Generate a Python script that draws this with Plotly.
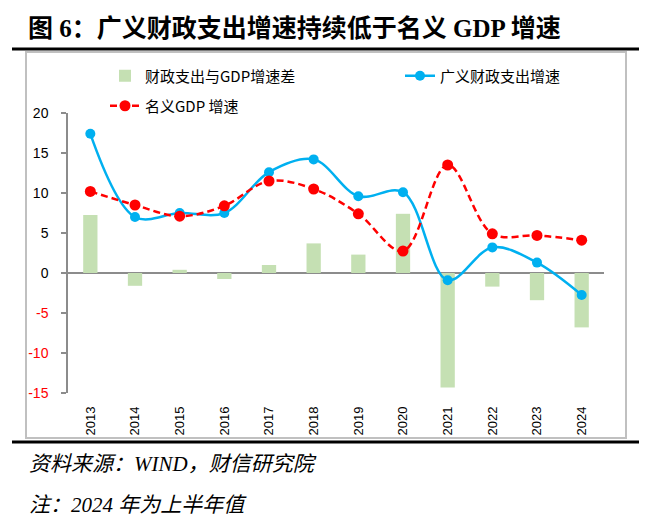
import plotly.graph_objects as go

years = ["2013", "2014", "2015", "2016", "2017", "2018", "2019", "2020", "2021", "2022", "2023", "2024"]
spend_growth = [17.4, 7.0, 7.5, 7.5, 12.6, 14.2, 9.6, 10.1, -0.9, 3.2, 1.3, -2.75]
gdp_growth = [10.2, 8.5, 7.1, 8.4, 11.5, 10.5, 7.4, 2.75, 13.5, 4.9, 4.7, 4.1]
gap = [7.25, -1.6, 0.4, -0.75, 1.0, 3.7, 2.3, 7.4, -14.3, -1.7, -3.4, -6.8]
y_ticks = [-15, -10, -5, 0, 5, 10, 15, 20]

name_gap = "财政支出与GDP增速差"
name_spend = "广义财政支出增速"
name_gdp = "名义GDP 增速"
title_text = "图 6：广义财政支出增速持续低于名义 GDP 增速"
source_text = "资料来源：WIND，财信研究院"
note_text = "注：2024 年为上半年值"

W, H = 654, 523
L, R, T, B = 68, 50, 113, 130
PW, PH = W - L - R, H - T - B
GRAY = "#8C8C8C"
CJK = "Noto Sans CJK SC"
SERIF = "Liberation Serif, Noto Sans CJK SC"


def px(xp):
    return (xp - L) / PW


def py(yp):
    return (H - B - yp) / PH


y_text = [f"<span style='color:#FF0000'>{v}</span>" if v < 0 else str(v) for v in y_ticks]

fig = go.Figure()
fig.add_trace(go.Bar(
    x=years, y=gap, name=name_gap,
    marker=dict(color="#C5E0B3", line=dict(width=0)), width=0.32,
    legend="legend", showlegend=True,
))
fig.add_trace(go.Scatter(
    x=years, y=spend_growth, name=name_spend, mode="lines+markers",
    line=dict(color="#00B0F0", width=2.5, shape="spline", smoothing=1.0),
    marker=dict(color="#00B0F0", size=10), legend="legend2", showlegend=True,
))
fig.add_trace(go.Scatter(
    x=years, y=gdp_growth, name=name_gdp, mode="lines+markers",
    line=dict(color="#FF0000", width=2.5, shape="spline", smoothing=1.0, dash="7px,4px"),
    marker=dict(color="#FF0000", size=11), legend="legend3", showlegend=True,
))

leg_common = dict(
    orientation="h", xref="container", yref="container",
    xanchor="left", yanchor="middle",
    font=dict(size=15, family=CJK), bgcolor="rgba(0,0,0,0)",
)

fig.update_layout(
    width=W, height=H, showlegend=True,
    margin=dict(l=L, r=R, t=T, b=B, pad=0, autoexpand=False),
    paper_bgcolor="white", plot_bgcolor="white",
    font=dict(family="Liberation Sans, " + CJK, size=13, color="black"),
    xaxis=dict(
        type="category", categoryorder="array", categoryarray=years,
        range=[-0.5, len(years) - 0.5],
        showline=False, ticks="", showgrid=False, zeroline=False,
        tickangle=-90, tickfont=dict(size=13, family="Liberation Sans"),
        ticklabelstandoff=10,
    ),
    xaxis2=dict(
        overlaying="x", anchor="free", position=15 / 35, side="bottom",
        range=[-0.5, len(years) - 0.5],
        tickvals=[i - 0.5 for i in range(len(years) + 1)],
        ticks="outside", ticklen=5, tickcolor=GRAY, tickwidth=1.5,
        showline=True, linecolor=GRAY, linewidth=1.5,
        showticklabels=False, showgrid=False, zeroline=False,
    ),
    yaxis=dict(
        range=[-15, 20], tickvals=y_ticks, ticktext=y_text,
        ticks="outside", ticklen=5, tickcolor=GRAY, tickwidth=1.5,
        showline=True, linecolor=GRAY, linewidth=1.5,
        showgrid=False, zeroline=True, zerolinecolor=GRAY, zerolinewidth=1.5,
        tickfont=dict(size=14, family="Liberation Sans"),
        ticklabelstandoff=10,
    ),
    bargap=0.68,
    legend=dict(x=105 / W, y=1 - 76 / H, **leg_common),
    legend2=dict(x=400 / W, y=1 - 76 / H, **leg_common),
    legend3=dict(x=105 / W, y=1 - 106 / H, **leg_common),
    shapes=[
        dict(type="rect", xref="paper", yref="paper",
             x0=px(26), x1=px(626), y0=py(438), y1=py(52),
             line=dict(color="#C0C0C0", width=2), layer="below"),
        dict(type="line", xref="paper", yref="paper",
             x0=px(12), x1=px(639), y0=py(49), y1=py(49),
             line=dict(color="black", width=3)),
        dict(type="line", xref="paper", yref="paper",
             x0=px(12), x1=px(639), y0=py(442), y1=py(442),
             line=dict(color="black", width=3)),
    ],
    annotations=[
        dict(text=f"<b>{title_text}</b>", xref="paper", yref="paper",
             x=px(26), y=py(29), xanchor="left", yanchor="middle",
             showarrow=False, font=dict(size=25, family=SERIF, color="black")),
        dict(text=f"<i>{source_text}</i>", xref="paper", yref="paper",
             x=px(27), y=py(464), xanchor="left", yanchor="middle",
             showarrow=False, font=dict(size=21, family=SERIF, color="black")),
        dict(text=f"<i>{note_text}</i>", xref="paper", yref="paper",
             x=px(27), y=py(505), xanchor="left", yanchor="middle",
             showarrow=False, font=dict(size=21, family=SERIF, color="black")),
    ],
)

fig.write_html("out.html", config={"displayModeBar": False},
               post_script="document.body.style.margin='0';")
